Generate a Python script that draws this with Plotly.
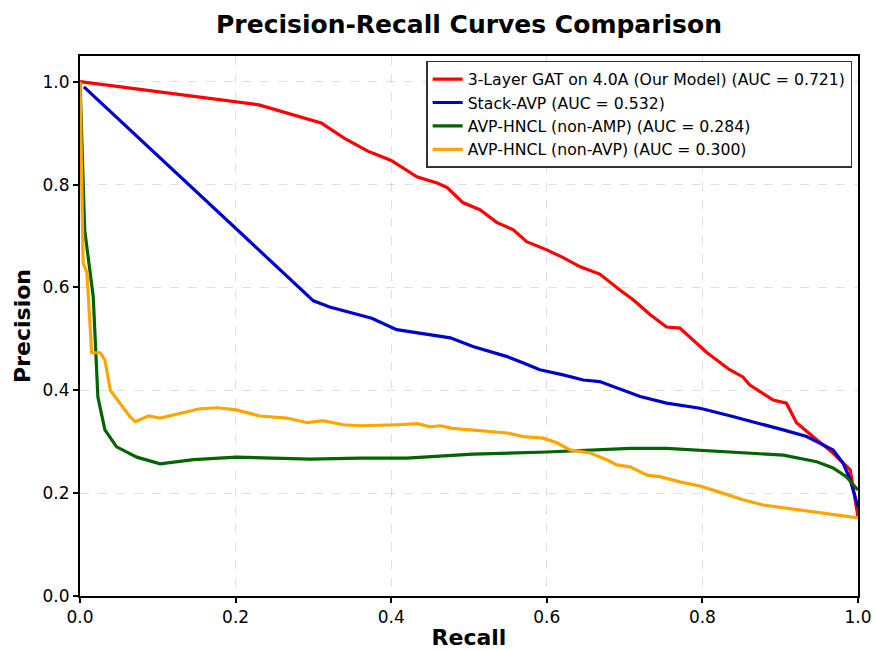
import plotly.graph_objects as go

gat_recall = [0.0, 0.23, 0.31, 0.34, 0.37, 0.40, 0.433, 0.459, 0.472, 0.492, 0.514, 0.536, 0.557, 0.574, 0.600, 0.621, 0.643, 0.668, 0.694, 0.711, 0.733, 0.754, 0.771, 0.806, 0.835, 0.852, 0.861, 0.891, 0.908, 0.921, 0.947, 0.968, 0.99, 1.0]
gat_precision = [1.0, 0.955, 0.92, 0.89, 0.865, 0.847, 0.815, 0.803, 0.794, 0.765, 0.751, 0.726, 0.712, 0.689, 0.673, 0.658, 0.640, 0.626, 0.595, 0.576, 0.547, 0.523, 0.521, 0.473, 0.44, 0.426, 0.41, 0.381, 0.375, 0.337, 0.304, 0.278, 0.245, 0.154]

stack_recall = [0.005, 0.30, 0.321, 0.375, 0.407, 0.476, 0.505, 0.548, 0.570, 0.591, 0.621, 0.647, 0.668, 0.698, 0.72, 0.754, 0.797, 0.839, 0.865, 0.904, 0.934, 0.968, 0.981, 0.99, 1.0]
stack_precision = [0.99, 0.574, 0.562, 0.54, 0.518, 0.502, 0.485, 0.466, 0.453, 0.44, 0.43, 0.42, 0.417, 0.40, 0.388, 0.375, 0.365, 0.349, 0.339, 0.323, 0.31, 0.284, 0.258, 0.226, 0.173]

amp_recall = [0.0, 0.006, 0.017, 0.023, 0.032, 0.047, 0.073, 0.103, 0.146, 0.201, 0.296, 0.36, 0.42, 0.505, 0.60, 0.668, 0.707, 0.754, 0.839, 0.904, 0.947, 0.968, 0.985, 1.0]
amp_precision = [1.0, 0.712, 0.582, 0.387, 0.323, 0.29, 0.27, 0.257, 0.265, 0.27, 0.266, 0.268, 0.268, 0.276, 0.28, 0.284, 0.287, 0.287, 0.28, 0.274, 0.261, 0.249, 0.232, 0.206]

avp_recall = [0.0, 0.004, 0.009, 0.015, 0.026, 0.032, 0.039, 0.051, 0.064, 0.071, 0.088, 0.103, 0.124, 0.154, 0.176, 0.201, 0.231, 0.266, 0.292, 0.312, 0.338, 0.36, 0.407, 0.434, 0.45, 0.463, 0.479, 0.505, 0.523, 0.549, 0.57, 0.595, 0.613, 0.63, 0.656, 0.677, 0.69, 0.707, 0.729, 0.745, 0.771, 0.797, 0.826, 0.852, 0.878, 0.908, 0.942, 0.968, 1.0]
avp_precision = [1.0, 0.648, 0.628, 0.473, 0.473, 0.459, 0.40, 0.375, 0.349, 0.339, 0.35, 0.346, 0.354, 0.364, 0.366, 0.362, 0.35, 0.346, 0.337, 0.341, 0.333, 0.331, 0.333, 0.335, 0.329, 0.331, 0.326, 0.323, 0.321, 0.317, 0.31, 0.307, 0.298, 0.284, 0.278, 0.265, 0.255, 0.251, 0.235, 0.232, 0.222, 0.214, 0.2, 0.187, 0.177, 0.171, 0.164, 0.158, 0.152]

names = [
    "3-Layer GAT on 4.0A (Our Model) (AUC = 0.721)",
    "Stack-AVP (AUC = 0.532)",
    "AVP-HNCL (non-AMP) (AUC = 0.284)",
    "AVP-HNCL (non-AVP) (AUC = 0.300)",
]
colors = ["#ff0000", "#0000cc", "#006400", "#ffa500"]
series = [(gat_recall, gat_precision), (stack_recall, stack_precision),
          (amp_recall, amp_precision), (avp_recall, avp_precision)]

FONT = "DejaVu Sans"
fig = go.Figure()
for (x, y), n, c in zip(series, names, colors):
    fig.add_trace(go.Scatter(x=x, y=y, mode="lines", name=n,
                             line=dict(color=c, width=3.2)))

axis_common = dict(showline=True, linecolor="black", linewidth=2, mirror=True,
                   ticks="outside", ticklen=5, tickwidth=1.8, tickcolor="black",
                   showgrid=True, gridcolor="rgba(0,0,0,0.12)", griddash="dash",
                   gridwidth=1, zeroline=False, automargin=False,
                   tickfont=dict(family=FONT, size=17, color="black"))

fig.update_layout(
    width=875, height=650,
    paper_bgcolor="white", plot_bgcolor="white",
    margin=dict(l=80, r=17, t=56, b=54),
    title=dict(text="<b>Precision-Recall Curves Comparison</b>", x=0.5, xanchor="center",
               xref="paper", y=0.962, yanchor="middle",
               font=dict(family=FONT, size=25, color="black")),
    xaxis=dict(range=[0, 1], tickvals=[0, 0.2, 0.4, 0.6, 0.8, 1.0], tickformat=".1f",
               title=dict(text="<b>Recall</b>", font=dict(family=FONT, size=22, color="black"), standoff=4),
               **axis_common),
    yaxis=dict(range=[0, 1.05], tickvals=[0, 0.2, 0.4, 0.6, 0.8, 1.0], tickformat=".1f",
               title=dict(text="<b>Precision</b>", font=dict(family=FONT, size=22, color="black"), standoff=6),
               **axis_common),
    legend=dict(x=0.9925, y=0.991, xanchor="right", yanchor="top",
                bgcolor="white", bordercolor="#333333", borderwidth=1.5,
                font=dict(family=FONT, size=15.7, color="black"),
                tracegroupgap=0, itemwidth=30),
    showlegend=True,
)

fig.write_html("out.html")
